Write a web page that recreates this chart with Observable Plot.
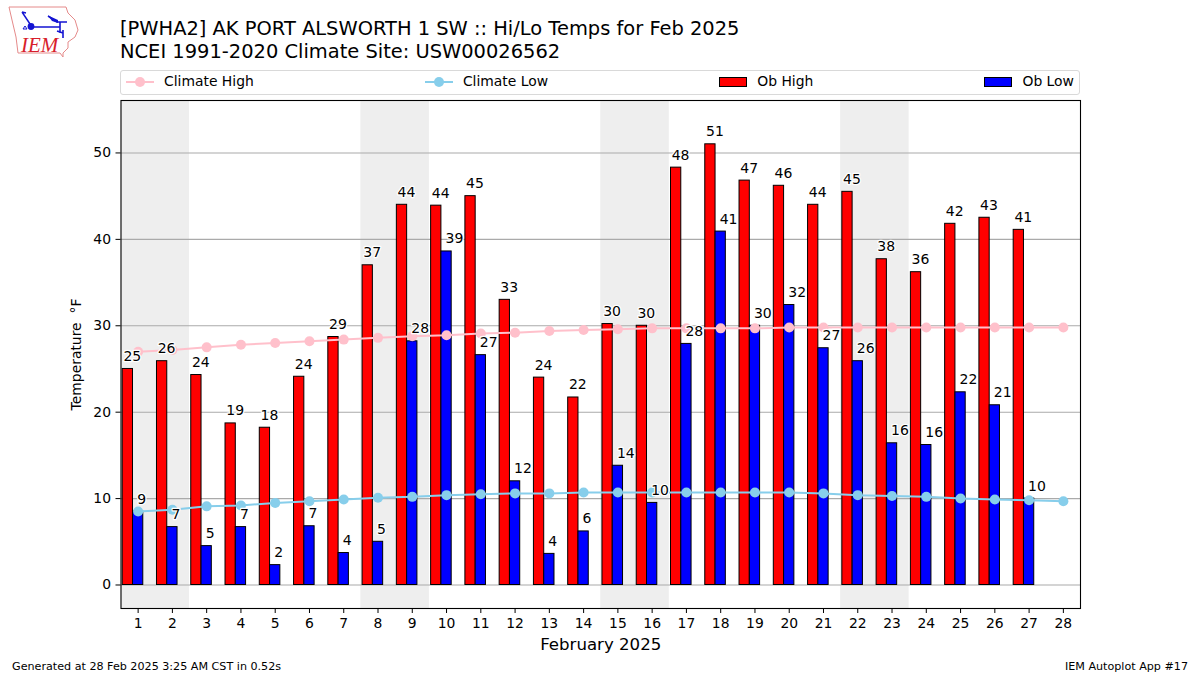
<!DOCTYPE html>
<html>
<head>
<meta charset="utf-8">
<script src="https://cdn.jsdelivr.net/npm/d3@7"></script>
<script src="https://cdn.jsdelivr.net/npm/@observablehq/plot@0.6"></script>
<style>
html,body{margin:0;padding:0;background:#fff;}
body{width:1200px;height:675px;overflow:hidden;position:relative;font-family:"DejaVu Sans",sans-serif;color:#000;}
#logo{position:absolute;left:0;top:0;}
#title{position:absolute;left:120px;top:18px;font-size:19.46px;line-height:22.5px;white-space:pre;}
#legend{position:absolute;left:120px;top:70px;width:960px;height:25px;box-sizing:border-box;border:1.3px solid #d9d9d9;border-radius:3px;display:flex;justify-content:space-between;align-items:center;padding:0 5px 2px 5px;font-size:13.9px;}
#legend .item{display:flex;align-items:center;gap:10px;}
#legend .item span:last-child{position:relative;top:-0.5px;}
#legend .sw{display:block;width:28px;height:10px;box-sizing:border-box;border:1px solid #000;margin-top:1px;}
#legend svg{display:block;}
#chart{position:absolute;left:0;top:96px;}
#chart svg{display:block;background:transparent;}
.foot{position:absolute;top:660px;font-size:11.15px;white-space:pre;}
</style>
</head>
<body>
<svg id="logo" width="90" height="65" viewBox="0 0 90 65">
  <path d="M9 7 L66 7 L68 13 L75 20 L78 30 L75 37 L68 42 L68 48 L63 53 L63 57 L60 53 L18 53 L16 37 L12 20 Z" fill="#fff" stroke="#e58a8a" stroke-width="1"/>
  <path d="M22 12 L26 13 M22 12 L32 27 L60 27" fill="none" stroke="#1414d2" stroke-width="1.5"/>
  <path d="M48 16 L57 22 L67 22 M60 22 L60 33 M63 30 L63 38 M57 31 L63 33" fill="none" stroke="#1414d2" stroke-width="1.6"/>
  <path d="M48 15.5 L58 20 L58 23 L52 21 Z" fill="#1414d2"/>
  <circle cx="31" cy="26.5" r="3.4" fill="#1414d2"/>
  <path d="M25 26 L27 29 L23 29 Z" fill="none" stroke="#1414d2" stroke-width="1"/>
  <text x="21" y="52" font-family="Liberation Serif" font-style="italic" font-size="21" fill="#d81e2c">IEM</text>
</svg>
<div id="title">[PWHA2] AK PORT ALSWORTH 1 SW :: Hi/Lo Temps for Feb 2025
NCEI 1991-2020 Climate Site: USW00026562</div>
<div id="legend"></div>
<div id="chart"></div>
<div class="foot" style="left:12px">Generated at 28 Feb 2025 3:25 AM CST in 0.52s</div>
<div class="foot" style="right:12px">IEM Autoplot App #17</div>
<script>
const days = d3.range(1, 29);
const obHigh = [25.0,25.9,24.3,18.7,18.2,24.1,28.7,37.0,44.0,43.9,45.0,33.0,24.0,21.7,30.2,30.0,48.3,51.0,46.8,46.2,44.0,45.5,37.7,36.2,41.8,42.5,41.1];
const obLow = [8.5,6.7,4.5,6.7,2.3,6.8,3.7,5.0,28.2,38.6,26.6,12.0,3.6,6.2,13.8,9.5,27.9,40.9,30.0,32.4,27.4,25.9,16.4,16.2,22.3,20.8,10.0];
const highLabels = [25,26,24,19,18,24,29,37,44,44,45,33,24,22,30,30,48,51,47,46,44,45,38,36,42,43,41];
const lowLabels = [9,7,5,7,2,7,4,5,28,39,27,12,4,6,14,10,28,41,30,32,27,26,16,16,22,21,10];
const climateHigh = [27.0,27.2,27.5,27.8,28.0,28.2,28.4,28.6,28.8,28.9,29.1,29.2,29.4,29.5,29.6,29.7,29.7,29.7,29.7,29.8,29.8,29.8,29.8,29.8,29.8,29.8,29.8,29.8];
const climateLow = [8.5,8.7,9.1,9.2,9.5,9.7,9.9,10.1,10.2,10.4,10.5,10.6,10.6,10.7,10.7,10.7,10.7,10.7,10.7,10.7,10.6,10.4,10.3,10.2,10.0,9.9,9.8,9.7];
const weekends = [[0.5,2.5],[7.5,9.5],[14.5,16.5],[21.5,23.5]];
const yTicks = [0,10,20,30,40,50];

const HIGH_COL = "#ff0000", LOW_COL = "#0000ff", CH_COL = "#ffc0cb", CL_COL = "#87ceeb";

// Legend
const legendItems = [
  {label:"Climate High", color:CH_COL, kind:"line"},
  {label:"Climate Low", color:CL_COL, kind:"line"},
  {label:"Ob High", color:HIGH_COL, kind:"bar"},
  {label:"Ob Low", color:LOW_COL, kind:"bar"}
];
const legend = d3.select("#legend");
for (const it of legendItems) {
  const item = legend.append("div").attr("class","item");
  if (it.kind === "line") {
    const s = item.append("svg").attr("width",28).attr("height",12);
    s.append("line").attr("x1",0).attr("x2",28).attr("y1",6).attr("y2",6).attr("stroke",it.color).attr("stroke-width",2);
    s.append("circle").attr("cx",14).attr("cy",6).attr("r",5).attr("fill",it.color);
  } else {
    item.append("span").attr("class","sw").style("background",it.color);
  }
  item.append("span").text(it.label);
}

const barRows = obHigh.map((h,i)=>({day:days[i],high:h,low:obLow[i],hl:highLabels[i],ll:lowLabels[i]}));
const climRows = days.map((d,i)=>({day:d,ch:climateHigh[i],cl:climateLow[i]}));
const barStyle = {stroke:"#000",strokeWidth:1};
const labelStyle = {fontSize:14,fill:"#000",stroke:"#fff",strokeWidth:2.5,textAnchor:"start",lineAnchor:"bottom",dy:-8,dx:-1};

const plot = Plot.plot({
  width:1200,height:560,
  marginLeft:120.5,marginRight:120,marginTop:4,marginBottom:48,
  style:{fontFamily:"DejaVu Sans",fontSize:"13.9px",color:"#000",background:"transparent"},
  x:{domain:[0.5,28.5],range:[120.5,1080],label:null},
  y:{domain:[-2.72,56.07],range:[512,4],label:null},
  marks:[
    Plot.rectY(weekends,{x1:d=>d[0],x2:d=>d[1],y1:-2.72,y2:56.07,fill:"#eeeeee"}),
    Plot.ruleY(yTicks,{stroke:"#aaaaaa",strokeWidth:1.1}),
    Plot.rectY(barRows,{x1:d=>d.day-0.45,x2:d=>d.day-0.15,y1:0,y2:"high",fill:HIGH_COL,...barStyle}),
    Plot.rectY(barRows,{x1:d=>d.day-0.15,x2:d=>d.day+0.15,y1:0,y2:"low",fill:LOW_COL,...barStyle}),
    Plot.line(climRows,{x:"day",y:"ch",stroke:CH_COL,strokeWidth:2}),
    Plot.dot(climRows,{x:"day",y:"ch",fill:CH_COL,r:5}),
    Plot.line(climRows,{x:"day",y:"cl",stroke:CL_COL,strokeWidth:2}),
    Plot.dot(climRows,{x:"day",y:"cl",fill:CL_COL,r:5}),
    Plot.text(barRows,{x:d=>d.day-0.40,y:"high",text:"hl",...labelStyle}),
    Plot.text(barRows,{x:"day",y:"low",text:"ll",...labelStyle}),
    Plot.axisX({ticks:days,tickFormat:d=>d,tickSize:5,tickPadding:5,fontSize:13.9}),
    Plot.axisY({ticks:yTicks,tickFormat:d=>d,tickSize:5,tickPadding:5,fontSize:13.9}),
    Plot.frame({stroke:"#000",strokeWidth:1.1}),
    Plot.text(["February 2025"],{frameAnchor:"bottom",dy:41,text:d=>d,fontSize:16.6,fill:"#000"}),
    Plot.text(["Temperature  °F"],{frameAnchor:"left",textAnchor:"middle",dx:-44,rotate:-90,text:d=>d,fontSize:13.9,fill:"#000"})
  ]
});
document.getElementById("chart").appendChild(plot);
</script>
</body>
</html>
